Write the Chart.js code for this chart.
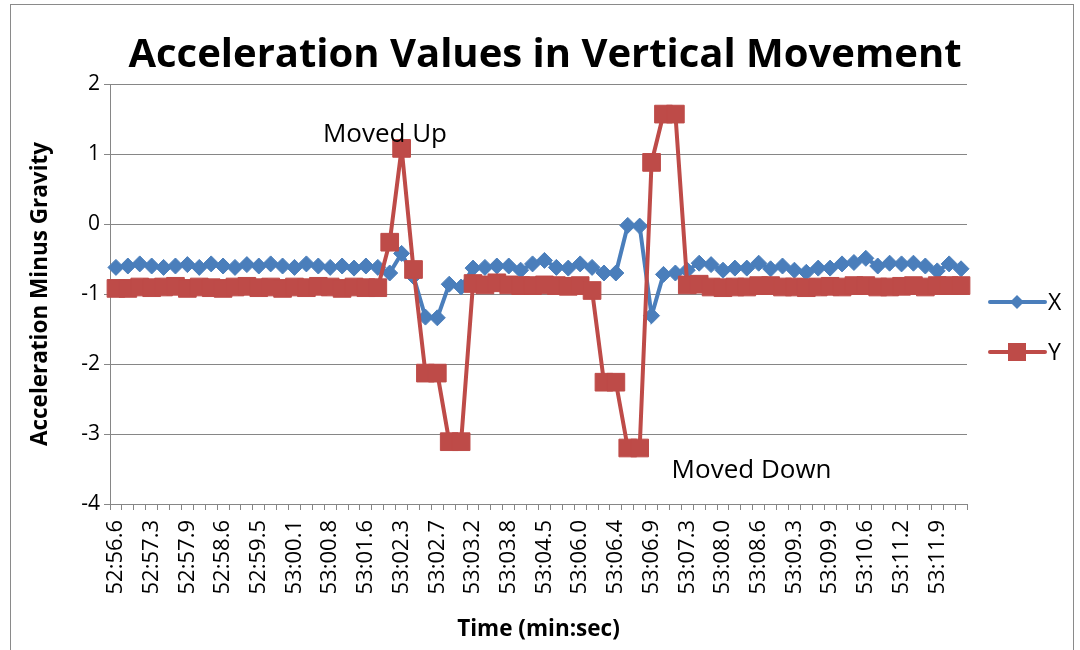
<!DOCTYPE html>
<html>
<head>
<meta charset="utf-8">
<script src="https://cdn.jsdelivr.net/npm/chart.js@4/dist/chart.umd.min.js"></script>
<style>
  html, body { margin: 0; padding: 0; background: #fff; }
  #wrap { width: 1080px; height: 650px; position: relative; }
</style>
</head>
<body>
<div id="wrap"><canvas id="c" width="1080" height="650"></canvas></div>
<script>
// ---- data ----
const tickLabels = ["52:56.6","52:57.3","52:57.9","52:58.6","52:59.5","53:00.1","53:00.8","53:01.6",
  "53:02.3","53:02.7","53:03.2","53:03.8","53:04.5","53:06.0","53:06.4","53:06.9","53:07.3",
  "53:08.0","53:08.6","53:09.3","53:09.9","53:10.6","53:11.2","53:11.9"];
const labelEvery = 3;
const seriesX = [-0.62,-0.6,-0.57,-0.6,-0.62,-0.6,-0.58,-0.62,-0.57,-0.6,-0.62,-0.58,-0.6,-0.57,-0.6,-0.62,-0.57,-0.6,-0.62,-0.6,-0.63,-0.6,-0.62,
  -0.7,-0.42,-0.75,-1.33,-1.34,-0.86,-0.9,
  -0.63,-0.62,-0.6,-0.6,-0.66,-0.57,-0.52,-0.62,-0.63,-0.57,-0.62,-0.7,-0.7,
  -0.02,-0.03,-1.31,-0.72,-0.7,-0.66,-0.56,-0.58,-0.66,-0.63,-0.63,-0.56,-0.64,-0.6,-0.66,-0.69,-0.63,
  -0.63,-0.57,-0.55,-0.49,-0.6,-0.56,-0.57,-0.56,-0.6,-0.67,-0.57,-0.64];
const seriesY = [-0.92,-0.92,-0.9,-0.91,-0.9,-0.89,-0.92,-0.9,-0.91,-0.92,-0.9,-0.89,-0.91,-0.9,-0.92,-0.9,-0.91,-0.89,-0.9,-0.92,-0.9,-0.91,-0.91,
  -0.26,1.08,-0.65,-2.13,-2.13,-3.11,-3.11,
  -0.85,-0.87,-0.84,-0.87,-0.88,-0.88,-0.87,-0.88,-0.89,-0.88,-0.95,-2.26,-2.26,
  -3.2,-3.2,0.88,1.57,1.57,-0.87,-0.86,-0.9,-0.91,-0.9,-0.9,-0.88,-0.88,-0.9,-0.9,-0.91,-0.9,
  -0.89,-0.9,-0.88,-0.88,-0.9,-0.9,-0.89,-0.88,-0.9,-0.88,-0.88,-0.88];
const seriesNames = ["X", "Y"];
const annotations = [
  { text: "Moved Up", cat: 22.6, value: 1.28 },
  { text: "Moved Down", cat: 53.4, value: -3.52 }
];

// categories: tick label on every third category
const categories = seriesX.map((_, i) => (i % labelEvery === 0 ? (tickLabels[i / labelEvery] || "") : ""));

const BLUE = "#4A7EBB";
const RED = "#BE4B48";
const GRID = "#868686";
const FONT = "'Open Sans', 'Liberation Sans', sans-serif";

Chart.defaults.font.family = FONT;
Chart.defaults.color = "#000";

const decor = {
  id: "decor",
  afterDraw(chart) {
    const ctx = chart.ctx;
    const xs = chart.scales.x, ys = chart.scales.y;
    ctx.save();
    // outer frame
    ctx.strokeStyle = "#8a8a8a";
    ctx.lineWidth = 1;
    ctx.strokeRect(10.5, 4.5, 1063, 700);
    // annotations
    ctx.fillStyle = "#000";
    ctx.font = "26px " + FONT;
    ctx.textAlign = "center";
    ctx.textBaseline = "middle";
    annotations.forEach(a => {
      ctx.fillText(a.text, xs.getPixelForValue(a.cat), ys.getPixelForValue(a.value));
    });
    // legend
    const items = [
      { name: seriesNames[0], color: BLUE, shape: "diamond", y: 302 },
      { name: seriesNames[1], color: RED, shape: "square", y: 352 }
    ];
    items.forEach(it => {
      ctx.strokeStyle = it.color;
      ctx.fillStyle = it.color;
      ctx.lineWidth = 4;
      ctx.lineCap = "round";
      ctx.beginPath();
      ctx.moveTo(990, it.y);
      ctx.lineTo(1045, it.y);
      ctx.stroke();
      ctx.beginPath();
      if (it.shape === "diamond") {
        const r = 7;
        ctx.moveTo(1017 - r, it.y); ctx.lineTo(1017, it.y - r);
        ctx.lineTo(1017 + r, it.y); ctx.lineTo(1017, it.y + r);
        ctx.closePath();
      } else {
        ctx.rect(1017 - 9, it.y - 9, 18, 18);
      }
      ctx.fill();
      ctx.fillStyle = "#000";
      ctx.font = "23px " + FONT;
      ctx.textAlign = "left";
      ctx.textBaseline = "middle";
      ctx.fillText(it.name, 1048, it.y + 1);
    });
    ctx.restore();
  }
};

new Chart(document.getElementById("c"), {
  type: "line",
  data: {
    labels: categories,
    datasets: [
      {
        label: seriesNames[0], data: seriesX, order: 1,
        borderColor: BLUE, backgroundColor: BLUE, borderWidth: 4,
        pointStyle: "rectRot", pointRadius: 8, pointBorderWidth: 1,
        pointBackgroundColor: BLUE, pointBorderColor: BLUE, tension: 0
      },
      {
        label: seriesNames[1], data: seriesY, order: 0,
        borderColor: RED, backgroundColor: RED, borderWidth: 4,
        pointStyle: "rect", pointRadius: 12.5, pointBorderWidth: 1,
        pointBackgroundColor: RED, pointBorderColor: RED, tension: 0
      }
    ]
  },
  options: {
    responsive: false,
    animation: false,
    layout: { padding: { left: 10, right: 0, top: 6, bottom: 6 } },
    plugins: {
      legend: { display: false },
      tooltip: { enabled: false },
      title: {
        display: true,
        text: "Acceleration Values in Vertical Movement",
        font: { size: 40, weight: "bold", family: FONT },
        color: "#000",
        padding: { top: 26, bottom: 4 }
      }
    },
    scales: {
      x: {
        type: "category",
        offset: true,
        grid: { display: true, drawOnChartArea: false, drawTicks: true, tickLength: 6, offset: true, color: GRID },
        border: { display: true, color: GRID, width: 1 },
        ticks: {
          autoSkip: false, maxRotation: 90, minRotation: 90, padding: 10,
          font: { size: 22 }, color: "#000"
        },
        title: {
          display: true, text: "Time (min:sec)",
          font: { size: 22.5, weight: "bold" }, color: "#000",
          padding: { top: 0, bottom: 1 }
        },
        afterFit(scale) { scale.height = 140; }
      },
      y: {
        min: -4, max: 2,
        ticks: { stepSize: 1, padding: 4, font: { size: 21 }, color: "#000" },
        grid: { color: GRID, drawTicks: true, tickLength: 6 },
        border: { display: true, color: GRID, width: 1 },
        title: {
          display: true, text: "Acceleration Minus Gravity",
          font: { size: 22.5, weight: "bold" }, color: "#000",
          padding: { top: 17, bottom: 0 }
        },
        afterFit(scale) { scale.width = 100; }
      },
      legendSpace: {
        type: "linear", position: "right", display: true,
        grid: { display: false }, border: { display: false },
        ticks: { display: false },
        afterFit(scale) { scale.width = 113; }
      }
    }
  },
  plugins: [decor]
});
</script>
</body>
</html>
